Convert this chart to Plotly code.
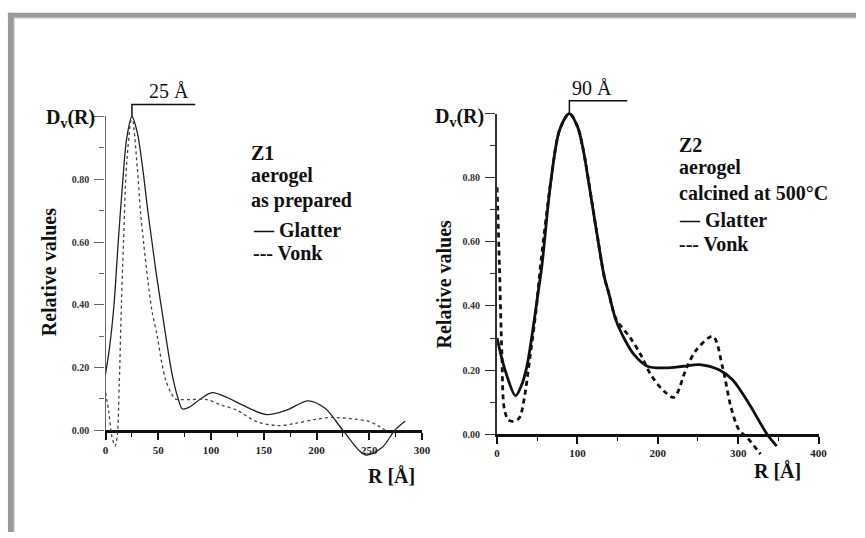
import plotly.graph_objects as go

W, H = 865, 538
SERIF = "Liberation Serif, Times New Roman, serif"

# ---- Z1 aerogel, as prepared ----
z1_glatter_r = [0, 4, 8, 12, 16, 20, 25, 30, 35, 40, 44, 48, 53, 58, 63, 68, 73,
                80, 90, 101, 115, 130, 153, 172, 192, 208, 225, 246, 262, 274, 284]
z1_glatter_dv = [0.18, 0.27, 0.40, 0.60, 0.78, 0.93, 1.00, 0.95, 0.84, 0.70, 0.60,
                 0.50, 0.39, 0.28, 0.18, 0.11, 0.068, 0.075, 0.10, 0.12, 0.105, 0.08,
                 0.05, 0.065, 0.094, 0.07, 0.0, -0.078, -0.055, 0.0, 0.03]
z1_vonk_r = [0, 3, 6, 9, 11, 13, 15, 17, 20, 25, 30, 33, 36, 40, 44, 49, 53, 57,
             62, 66, 70, 80, 96, 110, 124, 143, 164, 180, 199, 214, 238, 250, 258, 265]
z1_vonk_dv = [0.12, 0.06, -0.02, -0.05, -0.02, 0.15, 0.40, 0.60, 0.85, 1.00, 0.84,
              0.70, 0.60, 0.48, 0.38, 0.30, 0.22, 0.16, 0.12, 0.10, 0.098, 0.098,
              0.098, 0.08, 0.065, 0.028, 0.015, 0.022, 0.035, 0.041, 0.035, 0.028,
              0.015, 0.0]

# ---- Z2 aerogel, calcined at 500 C ----
z2_glatter_r = [0, 10, 23, 30, 37, 51, 56, 67, 78, 90, 100, 107, 115, 124, 133.5,
                139, 148, 160, 170.5, 186.8, 210, 231.8, 252, 276.7, 293, 313.5, 336, 348]
z2_glatter_dv = [0.30, 0.20, 0.12, 0.15, 0.21, 0.44, 0.53, 0.79, 0.95, 1.00, 0.96,
                 0.89, 0.77, 0.63, 0.49, 0.44, 0.355, 0.29, 0.248, 0.212, 0.207,
                 0.212, 0.217, 0.20, 0.17, 0.095, 0.0, -0.037]
z2_vonk_r = [0, 3, 6, 9, 14, 20, 27.5, 33, 41, 48.7, 53.4, 67, 78, 90, 100, 107,
             124, 133.5, 139, 148, 166, 178.7, 191, 207, 220, 235.8, 248, 268.5,
             280.8, 291, 301, 311.5, 327.8]
z2_vonk_dv = [0.77, 0.52, 0.25, 0.08, 0.045, 0.04, 0.05, 0.10, 0.24, 0.39, 0.51,
              0.79, 0.95, 1.00, 0.96, 0.89, 0.63, 0.49, 0.44, 0.36, 0.30, 0.248,
              0.187, 0.136, 0.115, 0.207, 0.263, 0.305, 0.207, 0.085, 0.014,
              -0.011, -0.062]

z1_peak_r = 25
z2_peak_r = 90

z1_r_ticks = [0, 50, 100, 150, 200, 250, 300]
z1_r_minor = [25, 75, 125, 175, 225, 275]
z2_r_ticks = [0, 100, 200, 300, 400]
z2_r_minor = [50, 150, 250, 350]
dv_ticks = [0.0, 0.2, 0.4, 0.6, 0.8, 1.0]
dv_ticktext = ["0.00", "0.20", "0.40", "0.60", "0.80", " "]
dv_minor = [0.1, 0.3, 0.5, 0.7, 0.9]

DATA_LO, DATA_HI = -0.15, 1.08


def fx(px):
    return px / W


def fy(py):
    return 1 - py / H


def panel_axes(x0, x1, y0, y1, rmax, rticks, rminor, ylw, ycol):
    """Build the visible R axis, the visible D_v axis (0..1) and the data axis."""
    unit = y0 - y1
    xa = dict(domain=[fx(x0), fx(x1)], range=[0, rmax], showline=True, linewidth=3,
              linecolor="#111", ticks="outside", ticklen=7, tickwidth=1.6,
              tickcolor="#111", tickmode="array", tickvals=rticks,
              ticktext=[str(t) for t in rticks],
              tickfont=dict(family=SERIF, size=11, color="#222", weight="bold"),
              minor=dict(tickvals=rminor, ticks="outside", ticklen=4, tickwidth=1.4,
                         tickcolor="#111"),
              showgrid=False, zeroline=False, fixedrange=True)
    ya = dict(domain=[fy(y0), fy(y1)], range=[0, 1.0], showline=True, linewidth=ylw,
              linecolor=ycol, ticks="outside", ticklen=10, tickwidth=1.3,
              tickcolor=ycol, tickmode="array", tickvals=dv_ticks,
              ticktext=dv_ticktext, ticklabelstandoff=3,
              tickfont=dict(family=SERIF, size=10, color="#333", weight="bold"),
              minor=dict(tickvals=dv_minor, ticks="outside", ticklen=5, tickwidth=1.2,
                         tickcolor=ycol),
              showgrid=False, zeroline=False, fixedrange=True)
    yd = dict(domain=[fy(y0 - DATA_LO * unit), fy(y0 - DATA_HI * unit)],
              range=[DATA_LO, DATA_HI], visible=False, showgrid=False,
              zeroline=False, fixedrange=True)
    return xa, ya, yd


xa1, ya1, yd1 = panel_axes(104, 425, 434, 113, 300, z1_r_ticks, z1_r_minor, 1.4, "#666")
xa2, ya2, yd2 = panel_axes(501, 827, 438, 110, 400, z2_r_ticks, z2_r_minor, 2.0, "#333")
xa1["anchor"] = "y"
ya1["anchor"] = "x"
yd1["anchor"] = "x"
xa2["anchor"] = "y3"
ya2["anchor"] = "x2"
yd2["anchor"] = "x2"

fig = go.Figure()

# placeholders so the visible axis pairs form subplots
for xr, yr in (("x", "y"), ("x2", "y3")):
    fig.add_trace(go.Scatter(x=[0], y=[0], xaxis=xr, yaxis=yr, mode="markers",
                             marker=dict(opacity=0), hoverinfo="skip", showlegend=False))

fig.add_trace(go.Scatter(x=z1_glatter_r, y=z1_glatter_dv, xaxis="x", yaxis="y2",
                         mode="lines", name="Glatter",
                         line=dict(color="#222", width=1.3, shape="spline", smoothing=0.9),
                         showlegend=False))
fig.add_trace(go.Scatter(x=z1_vonk_r, y=z1_vonk_dv, xaxis="x", yaxis="y2",
                         mode="lines", name="Vonk",
                         line=dict(color="#444", width=1.3, dash="3px,3px",
                                   shape="spline", smoothing=0.9),
                         showlegend=False))
fig.add_trace(go.Scatter(x=z2_glatter_r, y=z2_glatter_dv, xaxis="x2", yaxis="y4",
                         mode="lines", name="Glatter",
                         line=dict(color="#111", width=2.8, shape="spline", smoothing=0.9),
                         showlegend=False))
fig.add_trace(go.Scatter(x=z2_vonk_r, y=z2_vonk_dv, xaxis="x2", yaxis="y4",
                         mode="lines", name="Vonk",
                         line=dict(color="#111", width=2.8, dash="5px,4px",
                                   shape="spline", smoothing=0.9),
                         showlegend=False))

shapes = []
# peak markers: vertical tick from the maximum, then a horizontal bar under the label
shapes.append(dict(type="path", xref="x", yref="y2",
                   path=f"M {z1_peak_r},1.0 L {z1_peak_r},1.038 L 85,1.038",
                   line=dict(color="#111", width=1.5)))
shapes.append(dict(type="path", xref="x2", yref="y4",
                   path=f"M {z2_peak_r},1.0 L {z2_peak_r},1.04 L 162,1.04",
                   line=dict(color="#111", width=1.5)))
# page frame
shapes.append(dict(type="rect", xref="paper", yref="paper", x0=fx(5), x1=1.0,
                   y0=fy(12), y1=fy(7), fillcolor="#9a9a9a", line=dict(width=0)))
shapes.append(dict(type="rect", xref="paper", yref="paper", x0=fx(5), x1=fx(11),
                   y0=0, y1=fy(7), fillcolor="#9a9a9a", line=dict(width=0)))
shapes.append(dict(type="line", xref="paper", yref="paper", x0=fx(11), x1=1.0,
                   y0=fy(12.5), y1=fy(12.5), line=dict(color="#cfcfcf", width=1)))
shapes.append(dict(type="line", xref="paper", yref="paper", x0=fx(11.5), x1=fx(11.5),
                   y0=0, y1=fy(12), line=dict(color="#cfcfcf", width=1)))

annotations = []


def label(text, px, py, size=20, xanchor="left", yanchor="middle", angle=0):
    annotations.append(dict(text=text, x=fx(px), y=fy(py), xref="paper", yref="paper",
                            showarrow=False, xanchor=xanchor, yanchor=yanchor,
                            textangle=angle,
                            font=dict(family=SERIF, size=size, color="#111")))


# left panel texts
label(f"{z1_peak_r} Å", 168, 100, size=20, xanchor="center", yanchor="bottom")
label("<b>D<sub>v</sub>(R)</b>", 95, 115, size=20, xanchor="right")
label("<b>Relative values</b>", 47, 272, size=20, xanchor="center", angle=-90)
label("<b>R [Å]</b>", 394, 481, size=20, xanchor="center")
label("<b>Z1</b>", 249, 150)
label("<b>aerogel</b>", 249, 173)
label("<b>as prepared</b>", 249, 199)
label("<b>— Glatter</b>", 251, 229)
label("<b>--- Vonk</b>", 251, 253)

# right panel texts
label(f"{z2_peak_r} Å", 597, 97, size=20, xanchor="center", yanchor="bottom")
label("<b>D<sub>v</sub>(R)</b>", 490, 114, size=20, xanchor="right")
label("<b>Relative values</b>", 447, 284, size=20, xanchor="center", angle=-90)
label("<b>R [Å]</b>", 785, 476, size=20, xanchor="center")
label("<b>Z2</b>", 683, 142)
label("<b>aerogel</b>", 683, 165)
label("<b>calcined at 500°C</b>", 683, 191)
label("<b>— Glatter</b>", 683, 219)
label("<b>--- Vonk</b>", 683, 243)

fig.update_layout(
    width=W, height=H, margin=dict(l=0, r=0, t=0, b=0),
    paper_bgcolor="white", plot_bgcolor="rgba(0,0,0,0)",
    xaxis=xa1, yaxis=ya1, yaxis2=yd1,
    xaxis2=xa2, yaxis3=ya2, yaxis4=yd2,
    shapes=shapes, annotations=annotations, showlegend=False,
)

fig.write_html("out.html")
